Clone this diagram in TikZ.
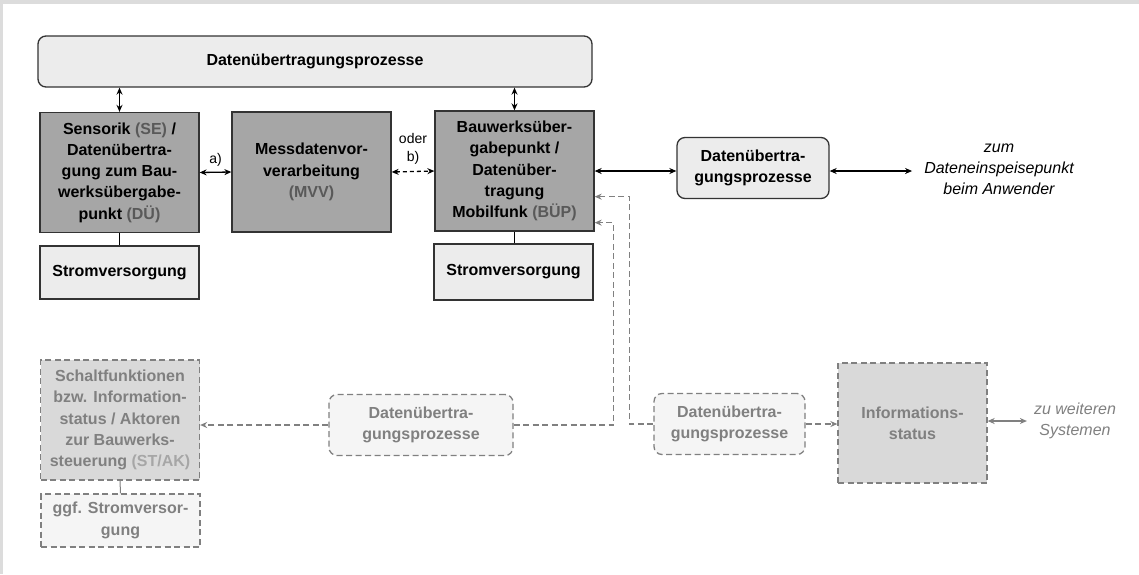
\documentclass[tikz,border=0pt]{standalone}
\usepackage{fontspec}
\setmainfont{Liberation Sans}
\usetikzlibrary{arrows.meta,calc}
\definecolor{framegray}{HTML}{DCDCDC}
\definecolor{unitgray}{HTML}{A6A6A6}
\definecolor{boxlight}{HTML}{ECECEC}
\definecolor{optgray}{HTML}{D9D9D9}
\definecolor{optlight}{HTML}{F5F5F5}
\definecolor{linegray}{HTML}{808080}
\definecolor{abbrgray}{HTML}{595959}
\definecolor{optabbr}{HTML}{A6A6A6}
\begin{document}
\begin{tikzpicture}[x=1pt,y=-1pt,>={Stealth[length=7pt,width=6pt]},
    every node/.style={font=\fontsize{16}{21.3}\selectfont\bfseries,align=center,inner sep=0pt},
    unit/.style={draw=black!80,line width=1.3pt,fill=unitgray,minimum width=159pt,minimum height=120pt},
    power/.style={draw=black!80,line width=1.3pt,fill=boxlight,minimum width=159pt,minimum height=53pt},
    proc/.style={draw=black!80,line width=1.3pt,fill=boxlight,rounded corners=8pt},
    optunit/.style={draw=linegray,line width=1.3pt,dash pattern=on 6pt off 3.5pt,fill=optgray,text=linegray,minimum width=159pt,minimum height=120pt},
    optpower/.style={optunit,fill=optlight,minimum height=53pt},
    optproc/.style={optunit,fill=optlight,rounded corners=8pt,minimum height=61pt},
    remark/.style={font=\fontsize{16}{21}\selectfont\itshape},
    small/.style={font=\fontsize{14}{18}\selectfont},
    link/.style={line width=1.3pt,<->},
    tie/.style={line width=1pt},
    optlink/.style={linegray,line width=1.3pt,dash pattern=on 6pt off 3.5pt,->}]
\fill[framegray](0,0) rectangle (1139,574);
\fill[white](2.5,3.5) rectangle (1139,574);
\useasboundingbox (0,0) rectangle (1139,574);
% upper chain
\node[proc,minimum width=554pt,minimum height=51pt] (top) at (315,61.5){Datenübertragungsprozesse};
\node[unit] (se) at (119.5,172.5){Sensorik \textcolor{abbrgray}{(SE)} /\\Datenübertra-\\gung zum Bau-\\werksübergabe-\\punkt \textcolor{abbrgray}{(DÜ)}};
\node[power] (strom1) at (119.5,272.5){Stromversorgung};
\node[unit] (mvv) at (311.5,172){Messdatenvor-\\verarbeitung\\\textcolor{abbrgray}{(MVV)}};
\node[unit] (bup) at (514.5,171){Bauwerksüber-\\gabepunkt /\\Datenüber-\\tragung\\Mobilfunk \textcolor{abbrgray}{(BÜP)}};
\node[power,minimum height=56pt] (strom2) at (513.5,272){Stromversorgung};
\node[proc,minimum width=152pt,minimum height=61pt] (rdtp) at (753,168){Datenübertra-\\gungsprozesse};
\node[remark,inner xsep=12pt] (user) at (999,169){zum\\Dateneinspeisepunkt\\beim Anwender};
\draw[link](se.north)--(se.north |- top.south);
\draw[link](bup.north)--(bup.north |- top.south);
\draw[link](se.east)--(mvv.west)node[small,midway,above=5pt](la){a)};
\draw[link,dash pattern=on 4pt off 3pt](mvv.east)--(bup.west)node[small,midway,above=6pt](lb){oder\\b)};
\draw[link](bup.east)--(bup.east -| rdtp.west);
\draw[link](rdtp.east |- bup.east)--(user.west |- bup.east);
\draw[tie](se.south)--(strom1.north);
\draw[tie](bup.south)--(bup.south |- strom2.north);
% optional part
\node[optunit] (stak) at (120,420){Schaltfunktionen\\bzw. Information-\\status / Aktoren\\zur Bauwerks-\\steuerung \textcolor{optabbr}{(ST/AK)}};
\node[optpower] (ggf) at (120.5,520.5){ggf. Stromversor-\\gung};
\node[optproc,minimum width=184pt] (mid) at (421,425){Datenübertra-\\gungsprozesse};
\node[optproc,minimum width=151pt] (rdtp2) at (729.5,424){Datenübertra-\\gungsprozesse};
\node[optunit,minimum width=149pt] (info) at (912.5,423){Informations-\\status};
\node[remark,text=linegray,inner xsep=7pt] (ext) at (1075,421){zu weiteren\\Systemen};
\draw[tie,linegray](stak.south)--(ggf.north);
\draw[optlink](mid.west)--(mid.west -| stak.east);
\draw[optlink](mid.east)-|($(bup.south east)+(19,-9)$)--($(bup.south east)+(0,-9)$);
\draw[optlink](rdtp2.west)-|($(bup.south east)+(35,-35)$)--($(bup.south east)+(0,-35)$);
\draw[optlink](rdtp2.east)--(rdtp2.east -| info.west);
\draw[linegray,link](info.east |- ext.west)--(ext.west);
\end{tikzpicture}
\end{document}
